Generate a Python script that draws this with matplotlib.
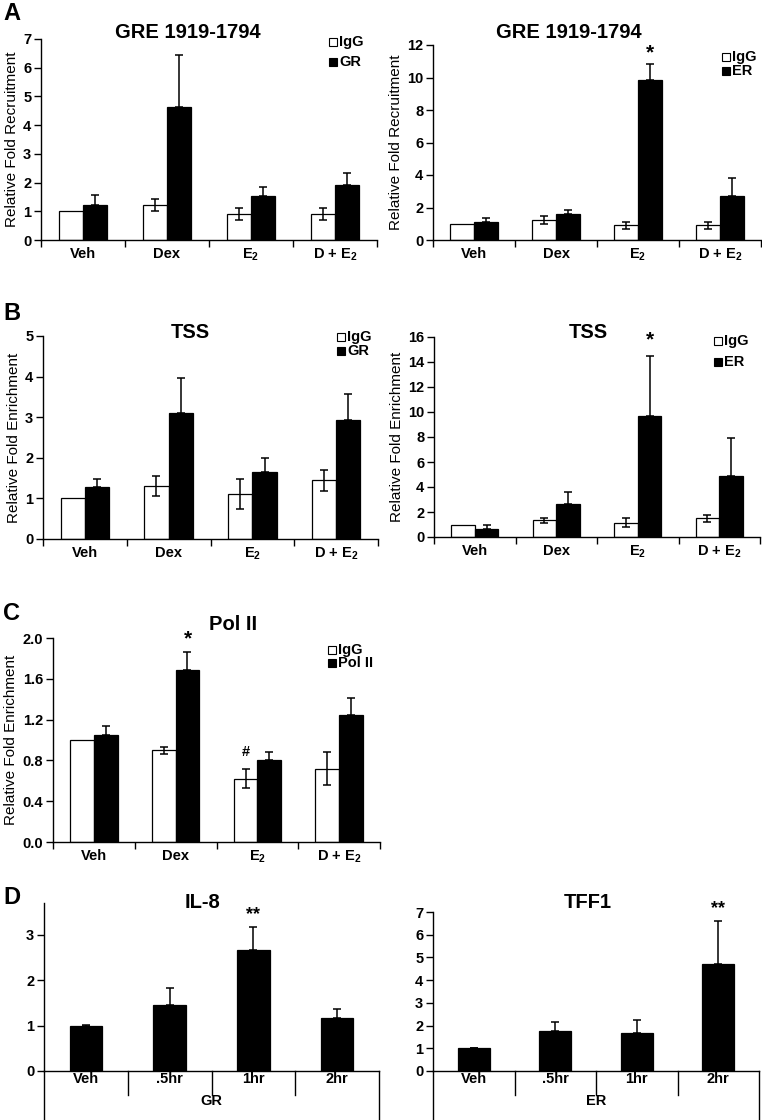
"""ChIP and expression bar panels (A-D) redrawn with matplotlib."""

import matplotlib

matplotlib.use("Agg")
import matplotlib.pyplot as plt
import numpy as np
from matplotlib.patches import Rectangle

plt.rcParams["font.family"] = ["Liberation Sans", "DejaVu Sans"]
plt.rcParams["font.weight"] = "bold"
plt.rcParams["mathtext.fontset"] = "custom"
plt.rcParams["mathtext.rm"] = "Liberation Sans:bold"
plt.rcParams["mathtext.default"] = "rm"
plt.rcParams["axes.linewidth"] = 1.0

W, H = 762, 1120

TREATMENTS = ["Veh", "Dex", "E$_2$", "D + E$_2$"]
TIMES = ["Veh", ".5hr", "1hr", "2hr"]

# A: GRE 1919-1794, GR ChIP
a_gr_igg = [1.0, 1.22, 0.90, 0.90]
a_gr_igg_err = [0.0, 0.22, 0.20, 0.21]
a_gr = [1.22, 4.64, 1.53, 1.91]
a_gr_err = [0.34, 1.80, 0.32, 0.42]

# A: GRE 1919-1794, ER ChIP
a_er_igg = [1.0, 1.23, 0.90, 0.90]
a_er_igg_err = [0.0, 0.22, 0.20, 0.23]
a_er = [1.10, 1.62, 9.85, 2.73]
a_er_err = [0.23, 0.23, 0.96, 1.07]

# B: TSS, GR ChIP
b_gr_igg = [1.0, 1.31, 1.11, 1.45]
b_gr_igg_err = [0.0, 0.24, 0.36, 0.26]
b_gr = [1.29, 3.11, 1.64, 2.92]
b_gr_err = [0.18, 0.86, 0.36, 0.65]

# B: TSS, ER ChIP
b_er_igg = [1.0, 1.33, 1.15, 1.49]
b_er_igg_err = [0.0, 0.23, 0.35, 0.27]
b_er = [0.67, 2.61, 9.68, 4.91]
b_er_err = [0.27, 1.00, 4.77, 2.98]

# C: Pol II ChIP
c_igg = [1.0, 0.90, 0.62, 0.72]
c_igg_err = [0.0, 0.035, 0.095, 0.16]
c_pol = [1.05, 1.69, 0.80, 1.245]
c_pol_err = [0.09, 0.17, 0.08, 0.17]

# D: expression time course
il8 = [1.0, 1.46, 2.67, 1.16]
il8_err = [0.02, 0.37, 0.51, 0.21]
tff1 = [1.0, 1.75, 1.69, 4.70]
tff1_err = [0.03, 0.41, 0.57, 1.89]

PAIR_W = 0.29
TICK_SIZE = 10.5
ERR_KW = dict(fmt="none", ecolor="black", elinewidth=1.1, capsize=2.8, capthick=1.1)


def fx(x):
    return x / W


def fy(y):
    return 1 - y / H


def add_axes(fig, left, top, right, bottom):
    return fig.add_axes([fx(left), fy(bottom), (right - left) / W, (bottom - top) / H])


def key(fig, x, y, labels, dy, size=10.5):
    """Two-entry legend; x, y is the pixel centre of the first swatch."""
    for i, (lab, fc) in enumerate(zip(labels, ["white", "black"])):
        yy = y + i * dy
        fig.add_artist(Rectangle((fx(x - 4), fy(yy + 4)), 8 / W, 8 / H, facecolor=fc,
                                 edgecolor="black", lw=0.8, transform=fig.transFigure))
        fig.text(fx(x + 6), fy(yy), lab, fontsize=size, va="center", ha="left")


def pair_panel(ax, igg, igg_err, chip, chip_err, ymax, step, ylabel, fmt="{:.0f}"):
    x = np.arange(len(TREATMENTS))
    ax.bar(x - PAIR_W / 2, igg, PAIR_W, color="white", edgecolor="black", linewidth=0.9)
    ax.bar(x + PAIR_W / 2, chip, PAIR_W, color="black", edgecolor="black", linewidth=0.9)
    err = np.asarray(igg_err)
    has = err > 0
    ax.errorbar((x - PAIR_W / 2)[has], np.asarray(igg)[has], yerr=err[has], **ERR_KW)
    ax.errorbar(x + PAIR_W / 2, chip, yerr=[np.zeros(len(chip)), chip_err], **ERR_KW)
    ax.set_xlim(-0.5, 3.5)
    ax.set_ylim(0, ymax)
    ticks = np.arange(0, ymax + step / 2, step)
    ax.set_yticks(ticks, [fmt.format(t) for t in ticks])
    ax.set_xticks(x, TREATMENTS)
    ax.set_xticks(np.arange(-0.5, 4, 1), minor=True)
    ax.tick_params(axis="x", which="major", length=0, pad=5, labelsize=TICK_SIZE)
    ax.tick_params(axis="x", which="minor", length=5, width=1, direction="out")
    ax.tick_params(axis="y", length=5, width=1, labelsize=TICK_SIZE, pad=2)
    ax.spines[["top", "right"]].set_visible(False)
    ax.set_ylabel(ylabel, fontsize=11, labelpad=3)


def time_panel(ax, vals, errs, ymax, group):
    x = np.arange(len(TIMES))
    ax.bar(x, vals, 0.39, color="black", edgecolor="black", linewidth=0.9)
    ax.errorbar(x, vals, yerr=[np.zeros(len(vals)), errs], **ERR_KW)
    ax.set_xlim(-0.5, 3.5)
    ax.set_ylim(0, ymax)
    ax.set_yticks(np.arange(0, int(ymax) + 1))
    ax.set_xticks(x, TIMES)
    ax.tick_params(axis="x", length=0, pad=1, labelsize=TICK_SIZE)
    ax.tick_params(axis="y", length=5, width=1, labelsize=TICK_SIZE, pad=2)
    ax.spines[["top", "right"]].set_visible(False)
    # two-level category axis below the plot
    h = ax.get_position().height * H
    tr = ax.get_xaxis_transform()
    for b in (0.5, 1.5, 2.5):
        ax.plot([b, b], [0, -24 / h], transform=tr, color="black", lw=1, clip_on=False)
    for b in (-0.5, 3.5):
        ax.plot([b, b], [0, -50 / h], transform=tr, color="black", lw=1, clip_on=False)
    ax.text(1.5, -30 / h, group, transform=tr, ha="center", va="center", fontsize=TICK_SIZE)


fig = plt.figure(figsize=(W / 100, H / 100), dpi=100)

# A
ax = add_axes(fig, 41, 39, 377, 240)
pair_panel(ax, a_gr_igg, a_gr_igg_err, a_gr, a_gr_err, 7, 1, "Relative Fold Recruitment")
fig.text(fx(188), fy(33), "GRE 1919-1794", fontsize=14.5, ha="center", va="center")
key(fig, 333, 42, ["IgG", "GR"], 20)

ax = add_axes(fig, 433, 45, 761, 240)
pair_panel(ax, a_er_igg, a_er_igg_err, a_er, a_er_err, 12, 2, "Relative Fold Recruitment")
ax.text(2 + PAIR_W / 2, 11.5, "*", ha="center", va="center", fontsize=15)
fig.text(fx(569), fy(33), "GRE 1919-1794", fontsize=14.5, ha="center", va="center")
key(fig, 726, 57, ["IgG", "ER"], 14)

# B
ax = add_axes(fig, 43, 336, 378, 539)
pair_panel(ax, b_gr_igg, b_gr_igg_err, b_gr, b_gr_err, 5, 1, "Relative Fold Enrichment")
fig.text(fx(190), fy(332), "TSS", fontsize=14.5, ha="center", va="center")
key(fig, 341, 337, ["IgG", "GR"], 14)

ax = add_axes(fig, 434, 337, 760, 537)
pair_panel(ax, b_er_igg, b_er_igg_err, b_er, b_er_err, 16, 2, "Relative Fold Enrichment")
ax.text(2 + PAIR_W / 2, 15.76, "*", ha="center", va="center", fontsize=15)
fig.text(fx(588), fy(332), "TSS", fontsize=14.5, ha="center", va="center")
key(fig, 718, 341, ["IgG", "ER"], 21)

# C
ax = add_axes(fig, 53, 638, 380, 842)
pair_panel(ax, c_igg, c_igg_err, c_pol, c_pol_err, 2.0, 0.4, "Relative Fold Enrichment",
           fmt="{:.1f}")
ax.text(1 + PAIR_W / 2, 1.99, "*", ha="center", va="center", fontsize=15)
ax.text(2 - PAIR_W / 2, 0.88, "#", ha="center", va="center", fontsize=10.5)
fig.text(fx(233), fy(625), "Pol II", fontsize=14.5, ha="center", va="center")
key(fig, 332, 650, ["IgG", "Pol II"], 13)

# D
ax = add_axes(fig, 44, 903, 379, 1071)
time_panel(ax, il8, il8_err, 3.7, "GR")
ax.text(2, 3.44, "**", ha="center", va="center", fontsize=13)
fig.text(fx(203), fy(903), "IL-8", fontsize=14.5, ha="center", va="center")

ax = add_axes(fig, 433, 912, 759, 1071)
time_panel(ax, tff1, tff1_err, 7, "ER")
ax.text(3, 7.15, "**", ha="center", va="center", fontsize=13)
fig.text(fx(588), fy(903), "TFF1", fontsize=14.5, ha="center", va="center")

for letter, y in (("A", 14), ("B", 313), ("C", 613), ("D", 897)):
    fig.text(fx(3), fy(y), letter, fontsize=17, ha="left", va="center")

fig.savefig("out.png", dpi=100)
